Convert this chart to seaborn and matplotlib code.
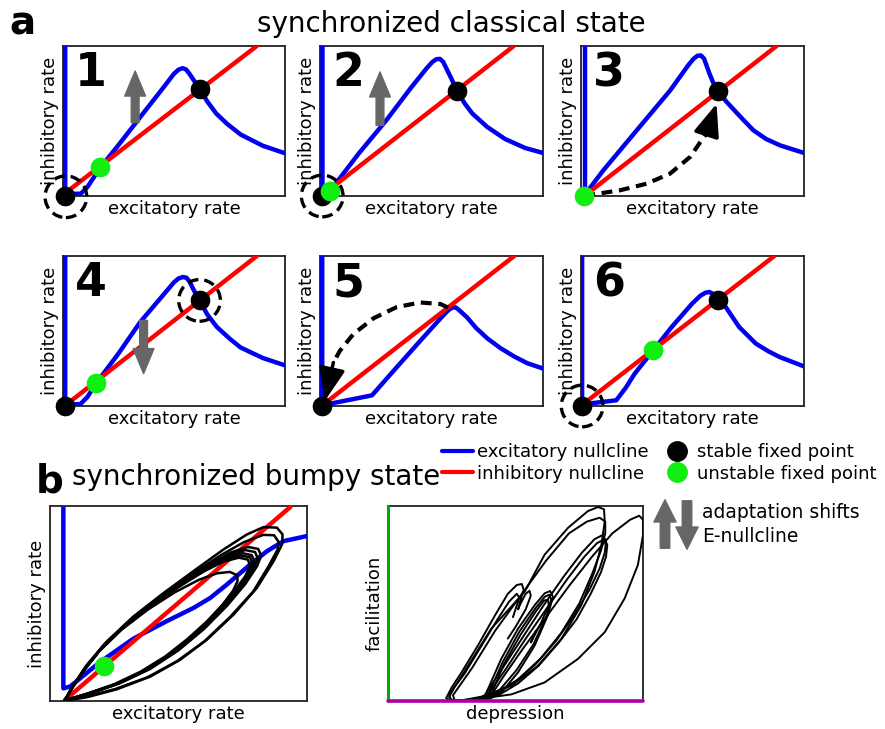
import numpy as np
import pandas as pd
import matplotlib.pyplot as plt
import seaborn as sns
from matplotlib.lines import Line2D
from matplotlib.patches import FancyArrowPatch

# Colours
BLUE = '#0000ee'
RED = '#ff0000'
LIME = '#11ee11'
GRAY = '#666666'
FONT = 13

# ---- panel a: nullclines (axes fractions, x = excitatory, y = inhibitory)
P1_E = [(0.01, 1.0), (0.01, 0.03), (0.03, 0.015), (0.08, 0.015), (0.11, 0.06), (0.168, 0.189),
        (0.25, 0.34), (0.35, 0.53), (0.44, 0.70), (0.50, 0.815), (0.52, 0.842), (0.538, 0.852),
        (0.553, 0.845), (0.567, 0.82), (0.59, 0.77), (0.615, 0.716), (0.65, 0.63), (0.69, 0.55),
        (0.74, 0.48), (0.80, 0.41), (0.90, 0.335), (1.0, 0.285)]
P1_I = [(0.01, 0.02), (0.873, 1.0)]
P1_STABLE = [(0.01, 0.0), (0.615, 0.716)]
P1_UNSTABLE = [(0.168, 0.195)]
P1_RING = [(0.013, -0.005)]
P1_SHIFT = [(0.325, 0.489), (0.325, 0.833)]

P2_E = [(0.011, 1.0), (0.011, 0.03), (0.03, 0.02), (0.046, 0.035), (0.173, 0.282), (0.297, 0.504),
        (0.405, 0.716), (0.48, 0.855), (0.505, 0.895), (0.522, 0.912), (0.538, 0.914), (0.552, 0.895),
        (0.57, 0.84), (0.59, 0.78), (0.614, 0.70), (0.65, 0.615), (0.683, 0.55), (0.75, 0.46),
        (0.83, 0.38), (0.92, 0.32), (1.0, 0.287)]
P2_I = [(0.019, 0.016), (0.869, 1.0)]
P2_STABLE = [(0.01, 0.0), (0.614, 0.698)]
P2_UNSTABLE = [(0.046, 0.035)]
P2_RING = [(0.01, 0.0)]
P2_SHIFT = [(0.269, 0.471), (0.269, 0.827)]

P3_E = [(0.018, 1.0), (0.018, 0.01), (0.10, 0.171), (0.25, 0.438), (0.40, 0.704), (0.48, 0.87),
        (0.505, 0.915), (0.522, 0.935), (0.538, 0.937), (0.552, 0.915), (0.575, 0.82), (0.593, 0.755),
        (0.613, 0.70), (0.653, 0.627), (0.72, 0.52), (0.773, 0.438), (0.83, 0.38), (0.892, 0.338),
        (1.0, 0.287)]
P3_I = [(0.015, 0.0), (0.877, 1.0)]
P3_STABLE = [(0.613, 0.70)]
P3_UNSTABLE = [(0.015, 0.0)]
P3_JUMP = [(0.015, 0.0), (0.055, 0.011), (0.175, 0.038), (0.294, 0.082), (0.399, 0.149),
           (0.489, 0.260), (0.54, 0.37), (0.565, 0.42)]
P3_JUMP_TIP = (0.608, 0.615)

P4_E = [(0.01, 1.0), (0.01, 0.03), (0.03, 0.012), (0.078, 0.012), (0.11, 0.06), (0.15, 0.153),
        (0.25, 0.35), (0.348, 0.56), (0.44, 0.72), (0.50, 0.825), (0.52, 0.85), (0.54, 0.86),
        (0.556, 0.855), (0.57, 0.83), (0.59, 0.77), (0.615, 0.704), (0.65, 0.61), (0.693, 0.527),
        (0.75, 0.45), (0.80, 0.39), (0.90, 0.32), (1.0, 0.271)]
P4_I = [(0.01, 0.004), (0.873, 1.0)]
P4_STABLE = [(0.01, 0.0), (0.615, 0.704)]
P4_UNSTABLE = [(0.15, 0.153)]
P4_RING = [(0.615, 0.704)]
P4_SHIFT = [(0.363, 0.571), (0.363, 0.216)]

P5_E = [(0.01, 1.0), (0.01, 0.005), (0.233, 0.071), (0.345, 0.26), (0.465, 0.46), (0.55, 0.60),
        (0.575, 0.638), (0.592, 0.655), (0.607, 0.658), (0.622, 0.642), (0.66, 0.59), (0.70, 0.52),
        (0.751, 0.45), (0.81, 0.385), (0.871, 0.33), (0.93, 0.285), (1.0, 0.25)]
P5_I = [(0.01, 0.004), (0.871, 1.0)]
P5_STABLE = [(0.01, 0.0)]
P5_JUMP = [(0.575, 0.655), (0.54, 0.68), (0.45, 0.69), (0.345, 0.66), (0.24, 0.585), (0.15, 0.48),
           (0.09, 0.37), (0.06, 0.29)]
P5_JUMP_TIP = (0.022, 0.035)

P6_E = [(0.005, 1.0), (0.005, 0.011), (0.158, 0.038), (0.20, 0.12), (0.241, 0.216), (0.324, 0.371),
        (0.407, 0.527), (0.498, 0.682), (0.535, 0.735), (0.558, 0.755), (0.575, 0.76), (0.592, 0.748),
        (0.618, 0.704), (0.649, 0.66), (0.709, 0.527), (0.784, 0.416), (0.84, 0.365), (0.89, 0.327),
        (1.0, 0.264)]
P6_I = [(0.008, 0.011), (0.867, 1.0)]
P6_STABLE = [(0.005, 0.0), (0.614, 0.704)]
P6_UNSTABLE = [(0.324, 0.371)]
P6_RING = [(0.005, 0.0)]

# ---- panel b left: rate plane
B_E = [(0.052, 1.0), (0.052, 0.065), (0.078, 0.074), (0.195, 0.20), (0.325, 0.32), (0.455, 0.41),
       (0.558, 0.477), (0.623, 0.528), (0.688, 0.597), (0.779, 0.70), (0.844, 0.768),
       (0.909, 0.82), (1.0, 0.846)]
B_I = [(0.058, 0.005), (0.935, 0.995)]
B_UNSTABLE = [(0.212, 0.18)]
RATE_LOOPS = [
    [(0.058, 0.005), (0.091, 0.082), (0.143, 0.185), (0.221, 0.305), (0.325, 0.434), (0.442, 0.554),
     (0.558, 0.666), (0.675, 0.777), (0.766, 0.854), (0.831, 0.892), (0.883, 0.889), (0.905, 0.854),
     (0.903, 0.803), (0.870, 0.717), (0.805, 0.580), (0.714, 0.443), (0.610, 0.314), (0.506, 0.211),
     (0.390, 0.125), (0.260, 0.060), (0.143, 0.019), (0.065, 0.003)],
    [(0.058, 0.005), (0.090, 0.075), (0.140, 0.175), (0.215, 0.295), (0.318, 0.422), (0.435, 0.540),
     (0.552, 0.650), (0.665, 0.748), (0.755, 0.815), (0.830, 0.852), (0.872, 0.850), (0.890, 0.815),
     (0.885, 0.775), (0.850, 0.690), (0.790, 0.560), (0.700, 0.430), (0.600, 0.305), (0.495, 0.205),
     (0.380, 0.122), (0.255, 0.062), (0.140, 0.022), (0.062, 0.005)],
    [(0.058, 0.005), (0.088, 0.070), (0.135, 0.165), (0.205, 0.280), (0.300, 0.400), (0.410, 0.510),
     (0.520, 0.610), (0.620, 0.700), (0.700, 0.760), (0.770, 0.790), (0.810, 0.780), (0.822, 0.745),
     (0.805, 0.690), (0.760, 0.600), (0.690, 0.490), (0.600, 0.370), (0.500, 0.260), (0.390, 0.165),
     (0.270, 0.090), (0.150, 0.035), (0.062, 0.005)],
    [(0.058, 0.005), (0.087, 0.069), (0.134, 0.162), (0.203, 0.276), (0.296, 0.395), (0.405, 0.505),
     (0.515, 0.604), (0.615, 0.691), (0.695, 0.748), (0.760, 0.774), (0.798, 0.764), (0.808, 0.732),
     (0.792, 0.678), (0.748, 0.590), (0.680, 0.482), (0.592, 0.365), (0.495, 0.258), (0.388, 0.165),
     (0.270, 0.091), (0.150, 0.036), (0.062, 0.005)],
    [(0.058, 0.005), (0.086, 0.068), (0.132, 0.160), (0.200, 0.272), (0.292, 0.390), (0.400, 0.500),
     (0.510, 0.598), (0.610, 0.682), (0.690, 0.735), (0.750, 0.758), (0.785, 0.748), (0.795, 0.718),
     (0.780, 0.665), (0.735, 0.580), (0.670, 0.475), (0.585, 0.360), (0.490, 0.255), (0.385, 0.165),
     (0.270, 0.092), (0.150, 0.038), (0.062, 0.005)],
    [(0.058, 0.005), (0.085, 0.067), (0.131, 0.158), (0.198, 0.268), (0.288, 0.385), (0.396, 0.494),
     (0.505, 0.591), (0.604, 0.673), (0.682, 0.725), (0.742, 0.746), (0.778, 0.737), (0.787, 0.706),
     (0.770, 0.652), (0.725, 0.570), (0.660, 0.468), (0.578, 0.355), (0.484, 0.252), (0.380, 0.162),
     (0.266, 0.091), (0.148, 0.038), (0.062, 0.005)],
    [(0.058, 0.005), (0.085, 0.066), (0.130, 0.155), (0.196, 0.265), (0.285, 0.380), (0.392, 0.488),
     (0.500, 0.584), (0.598, 0.664), (0.675, 0.715), (0.735, 0.735), (0.770, 0.725), (0.778, 0.695),
     (0.760, 0.640), (0.715, 0.560), (0.650, 0.460), (0.570, 0.350), (0.478, 0.248), (0.375, 0.160),
     (0.262, 0.090), (0.145, 0.038), (0.062, 0.005)],
    [(0.058, 0.005), (0.084, 0.062), (0.128, 0.148), (0.192, 0.255), (0.278, 0.365), (0.380, 0.468),
     (0.485, 0.557), (0.580, 0.622), (0.650, 0.655), (0.700, 0.662), (0.728, 0.645), (0.730, 0.615),
     (0.712, 0.565), (0.672, 0.495), (0.612, 0.410), (0.535, 0.318), (0.448, 0.228), (0.352, 0.150),
     (0.248, 0.085), (0.140, 0.035), (0.062, 0.005)],
]

# ---- panel b right: synapse plane (x = depression, y = facilitation)
SYN_LOOPS = [
    [(0.27, 0.003), (0.24, 0.005), (0.228, 0.015), (0.25, 0.07), (0.29, 0.15), (0.355, 0.29),
     (0.42, 0.44), (0.47, 0.55), (0.505, 0.595), (0.525, 0.60), (0.532, 0.57), (0.52, 0.52),
     (0.51, 0.47), (0.52, 0.50), (0.54, 0.55), (0.555, 0.565), (0.56, 0.54), (0.54, 0.47),
     (0.50, 0.38), (0.47, 0.32)],
    [(0.28, 0.003), (0.25, 0.006), (0.24, 0.02), (0.26, 0.07), (0.30, 0.14), (0.365, 0.28),
     (0.43, 0.42), (0.475, 0.51), (0.505, 0.55), (0.515, 0.53), (0.50, 0.47), (0.49, 0.43)],
    [(0.37, 0.008), (0.386, 0.043), (0.444, 0.216), (0.51, 0.371), (0.575, 0.491), (0.614, 0.552),
     (0.636, 0.564), (0.647, 0.534), (0.627, 0.44), (0.575, 0.284), (0.51, 0.147), (0.444, 0.043),
     (0.40, 0.012), (0.37, 0.008)],
    [(0.38, 0.01), (0.392, 0.03), (0.45, 0.20), (0.515, 0.355), (0.578, 0.475), (0.615, 0.535),
     (0.633, 0.545), (0.64, 0.52), (0.62, 0.43), (0.57, 0.29), (0.505, 0.16), (0.44, 0.06),
     (0.40, 0.02), (0.38, 0.01)],
    [(0.39, 0.01), (0.40, 0.02), (0.455, 0.19), (0.52, 0.34), (0.58, 0.46), (0.612, 0.515),
     (0.628, 0.52), (0.63, 0.49), (0.60, 0.40), (0.56, 0.30), (0.58, 0.36)],
    [(0.27, 0.003), (0.245, 0.006), (0.24, 0.03), (0.27, 0.09), (0.314, 0.181), (0.405, 0.371),
     (0.536, 0.56), (0.614, 0.75), (0.706, 0.888), (0.784, 0.974), (0.824, 0.995), (0.847, 0.983),
     (0.85, 0.922), (0.837, 0.802), (0.81, 0.664), (0.758, 0.491), (0.68, 0.319), (0.588, 0.181),
     (0.484, 0.078), (0.366, 0.022), (0.30, 0.006), (0.27, 0.003)],
    [(0.29, 0.003), (0.26, 0.006), (0.255, 0.03), (0.33, 0.17), (0.42, 0.36), (0.52, 0.54),
     (0.62, 0.72), (0.71, 0.86), (0.78, 0.92), (0.83, 0.94), (0.852, 0.92), (0.852, 0.86),
     (0.835, 0.77), (0.80, 0.65), (0.75, 0.50), (0.68, 0.35), (0.60, 0.22), (0.51, 0.11),
     (0.42, 0.04), (0.33, 0.008), (0.29, 0.003)],
    [(0.36, 0.008), (0.38, 0.03), (0.45, 0.17), (0.53, 0.33), (0.61, 0.49), (0.69, 0.64),
     (0.76, 0.76), (0.81, 0.83), (0.84, 0.85), (0.855, 0.82), (0.85, 0.76), (0.83, 0.68),
     (0.79, 0.57), (0.73, 0.44), (0.66, 0.31), (0.58, 0.19), (0.50, 0.10), (0.43, 0.04),
     (0.38, 0.015), (0.36, 0.008)],
    [(0.37, 0.008), (0.39, 0.03), (0.46, 0.16), (0.54, 0.32), (0.62, 0.47), (0.70, 0.62),
     (0.77, 0.74), (0.82, 0.81), (0.85, 0.83), (0.86, 0.80), (0.855, 0.74), (0.835, 0.66),
     (0.795, 0.55), (0.74, 0.42), (0.67, 0.30), (0.59, 0.18), (0.51, 0.09), (0.44, 0.035),
     (0.39, 0.012), (0.37, 0.008)],
    [(0.38, 0.008), (0.40, 0.02), (0.45, 0.12), (0.53, 0.27), (0.62, 0.43), (0.71, 0.59),
     (0.80, 0.74), (0.88, 0.86), (0.95, 0.93), (0.985, 0.95), (1.0, 0.93), (1.0, 0.85),
     (0.98, 0.698), (0.928, 0.526), (0.85, 0.353), (0.745, 0.216), (0.614, 0.095), (0.484, 0.034),
     (0.353, 0.01), (0.28, 0.004)],
]
SYN_DEP = [(0.0, 0.0), (1.0, 0.0)]
SYN_FAC = [(0.0, 0.0), (0.0, 1.0)]

PANEL_A = [
    ('1', P1_E, P1_I, P1_STABLE, P1_UNSTABLE, P1_RING, P1_SHIFT, None, None),
    ('2', P2_E, P2_I, P2_STABLE, P2_UNSTABLE, P2_RING, P2_SHIFT, None, None),
    ('3', P3_E, P3_I, P3_STABLE, P3_UNSTABLE, [], None, P3_JUMP, P3_JUMP_TIP),
    ('4', P4_E, P4_I, P4_STABLE, P4_UNSTABLE, P4_RING, P4_SHIFT, None, None),
    ('5', P5_E, P5_I, P5_STABLE, [], [], None, P5_JUMP, P5_JUMP_TIP),
    ('6', P6_E, P6_I, P6_STABLE, P6_UNSTABLE, P6_RING, None, None, None),
]

# axes boxes in pixels (left, top, right, bottom) of the 885x729 canvas
W, H = 885, 729
COL_X = [(63, 285), (320, 543), (581, 804)]
ROW_Y = [(46, 196), (256, 406)]


def px_axes(fig, l, t, r, b):
    return fig.add_axes([l / W, 1 - b / H, (r - l) / W, (b - t) / H])


def curve(ax, pts, **kw):
    xs, ys = zip(*pts)
    sns.lineplot(x=list(xs), y=list(ys), sort=False, estimator=None, ax=ax, legend=False, **kw)


def dots(ax, pts, color, s=200):
    if not pts:
        return
    xs, ys = zip(*pts)
    sns.scatterplot(x=list(xs), y=list(ys), color=color, s=s, linewidth=0, ax=ax,
                    zorder=6, clip_on=False, legend=False)


def style_box(ax, xlabel, ylabel):
    ax.set_xlim(0, 1)
    ax.set_ylim(0, 1)
    ax.set_xticks([])
    ax.set_yticks([])
    ax.set_xlabel(xlabel, fontsize=FONT, labelpad=3)
    ax.set_ylabel(ylabel, fontsize=FONT, labelpad=3)
    for sp in ax.spines.values():
        sp.set_color('#222222')
        sp.set_linewidth(1.3)
        sp.set_visible(True)


sns.set_theme(style='white')
plt.rcParams['font.family'] = ['DejaVu Sans']
plt.rcParams['text.color'] = 'black'
plt.rcParams['axes.labelcolor'] = 'black'

fig = plt.figure(figsize=(W / 100, H / 100), dpi=100)

for i, (num, e_line, i_line, stable, unstable, ring, shift, jump, tip) in enumerate(PANEL_A):
    l, r = COL_X[i % 3]
    t, b = ROW_Y[i // 3]
    ax = px_axes(fig, l, t, r, b)
    style_box(ax, 'excitatory rate', 'inhibitory rate')
    curve(ax, e_line, color=BLUE, lw=3.2, zorder=3)
    curve(ax, i_line, color=RED, lw=3.2, zorder=3)
    dots(ax, stable, 'black')
    dots(ax, unstable, LIME)
    if ring:
        rx, ry = zip(*ring)
        ax.scatter(rx, ry, s=900, facecolor='none', edgecolor='black', linewidth=2.4,
                   linestyle=(0, (3.2, 1.8)), zorder=7, clip_on=False)
    if shift:
        ax.annotate('', xy=shift[1], xytext=shift[0],
                    arrowprops=dict(arrowstyle='simple,head_width=0.75,head_length=0.9,tail_width=0.28',
                                    color=GRAY, mutation_scale=20, shrinkA=0, shrinkB=0), zorder=5)
    if jump:
        curve(ax, jump, color='black', lw=3, linestyle=(0, (2.6, 1.6)), zorder=5)
        ax.annotate('', xy=tip, xytext=jump[-1],
                    arrowprops=dict(arrowstyle='-|>,head_length=1.0,head_width=0.4', color='black',
                                    lw=2.5, mutation_scale=20, shrinkA=0, shrinkB=0), zorder=5)
    ax.text(0.055, 0.73, num, transform=ax.transAxes, fontsize=33, fontweight='bold', va='baseline')

# panel b, rate plane
axr = px_axes(fig, 50, 506, 307, 701)
style_box(axr, 'excitatory rate', 'inhibitory rate')
curve(axr, B_E, color=BLUE, lw=3.2, zorder=3)
curve(axr, B_I, color=RED, lw=3.2, zorder=3)
rate_df = pd.DataFrame([(k, x, y) for k, loop in enumerate(RATE_LOOPS) for x, y in loop],
                       columns=['loop', 'x', 'y'])
sns.lineplot(data=rate_df, x='x', y='y', units='loop', estimator=None, sort=False,
             color='black', lw=1.8, ax=axr, zorder=4, legend=False)
dots(axr, B_UNSTABLE, LIME)
axr.set_xlabel('excitatory rate', fontsize=FONT, labelpad=3)
axr.set_ylabel('inhibitory rate', fontsize=FONT, labelpad=3)

# panel b, synapse plane
axs = px_axes(fig, 388, 506, 643, 701)
style_box(axs, 'depression', 'facilitation')
syn_df = pd.DataFrame([(k, x, y) for k, loop in enumerate(SYN_LOOPS) for x, y in loop],
                      columns=['loop', 'x', 'y'])
sns.lineplot(data=syn_df, x='x', y='y', units='loop', estimator=None, sort=False,
             color='black', lw=1.4, ax=axs, zorder=4, legend=False)
curve(axs, SYN_FAC, color='#00aa00', lw=2.2, zorder=5, clip_on=False)
curve(axs, SYN_DEP, color='#aa00aa', lw=2.6, zorder=5, clip_on=False)

# titles and panel letters
fig.text(0.011, 0.952, 'a', fontsize=28, fontweight='bold')
fig.text(0.5096, 0.956, 'synchronized classical state', fontsize=20, ha='center')
fig.text(0.040, 0.325, 'b', fontsize=28, fontweight='bold')
fig.text(0.0814, 0.335, 'synchronized bumpy state', fontsize=20)

# legend
handles = [Line2D([], [], color=BLUE, lw=3),
           Line2D([], [], color=RED, lw=3),
           Line2D([], [], color='black', marker='o', ls='none', markersize=14),
           Line2D([], [], color=LIME, marker='o', ls='none', markersize=14)]
labels = ['excitatory nullcline', 'inhibitory nullcline', 'stable fixed point', 'unstable fixed point']
fig.legend(handles, labels, loc='upper left', bbox_to_anchor=(442 / W, 1 - 443 / H), ncol=2,
           frameon=False, fontsize=FONT, borderpad=0, borderaxespad=0, handlelength=1.7,
           handletextpad=0.25, columnspacing=0.7, labelspacing=0.2)

for x0, y0, y1 in [(665, 551, 497), (687, 498, 552)]:
    fig.add_artist(FancyArrowPatch((x0 / W, 1 - y0 / H), (x0 / W, 1 - y1 / H),
                                   transform=fig.transFigure, color=GRAY, mutation_scale=20,
                                   arrowstyle='simple,head_width=0.8,head_length=0.8,tail_width=0.34'))
fig.text(702 / W, 1 - 512 / H, 'adaptation shifts', fontsize=13.5, va='center')
fig.text(702 / W, 1 - 537 / H, 'E-nullcline', fontsize=13.5, va='center')

fig.savefig('out.png', dpi=100)
